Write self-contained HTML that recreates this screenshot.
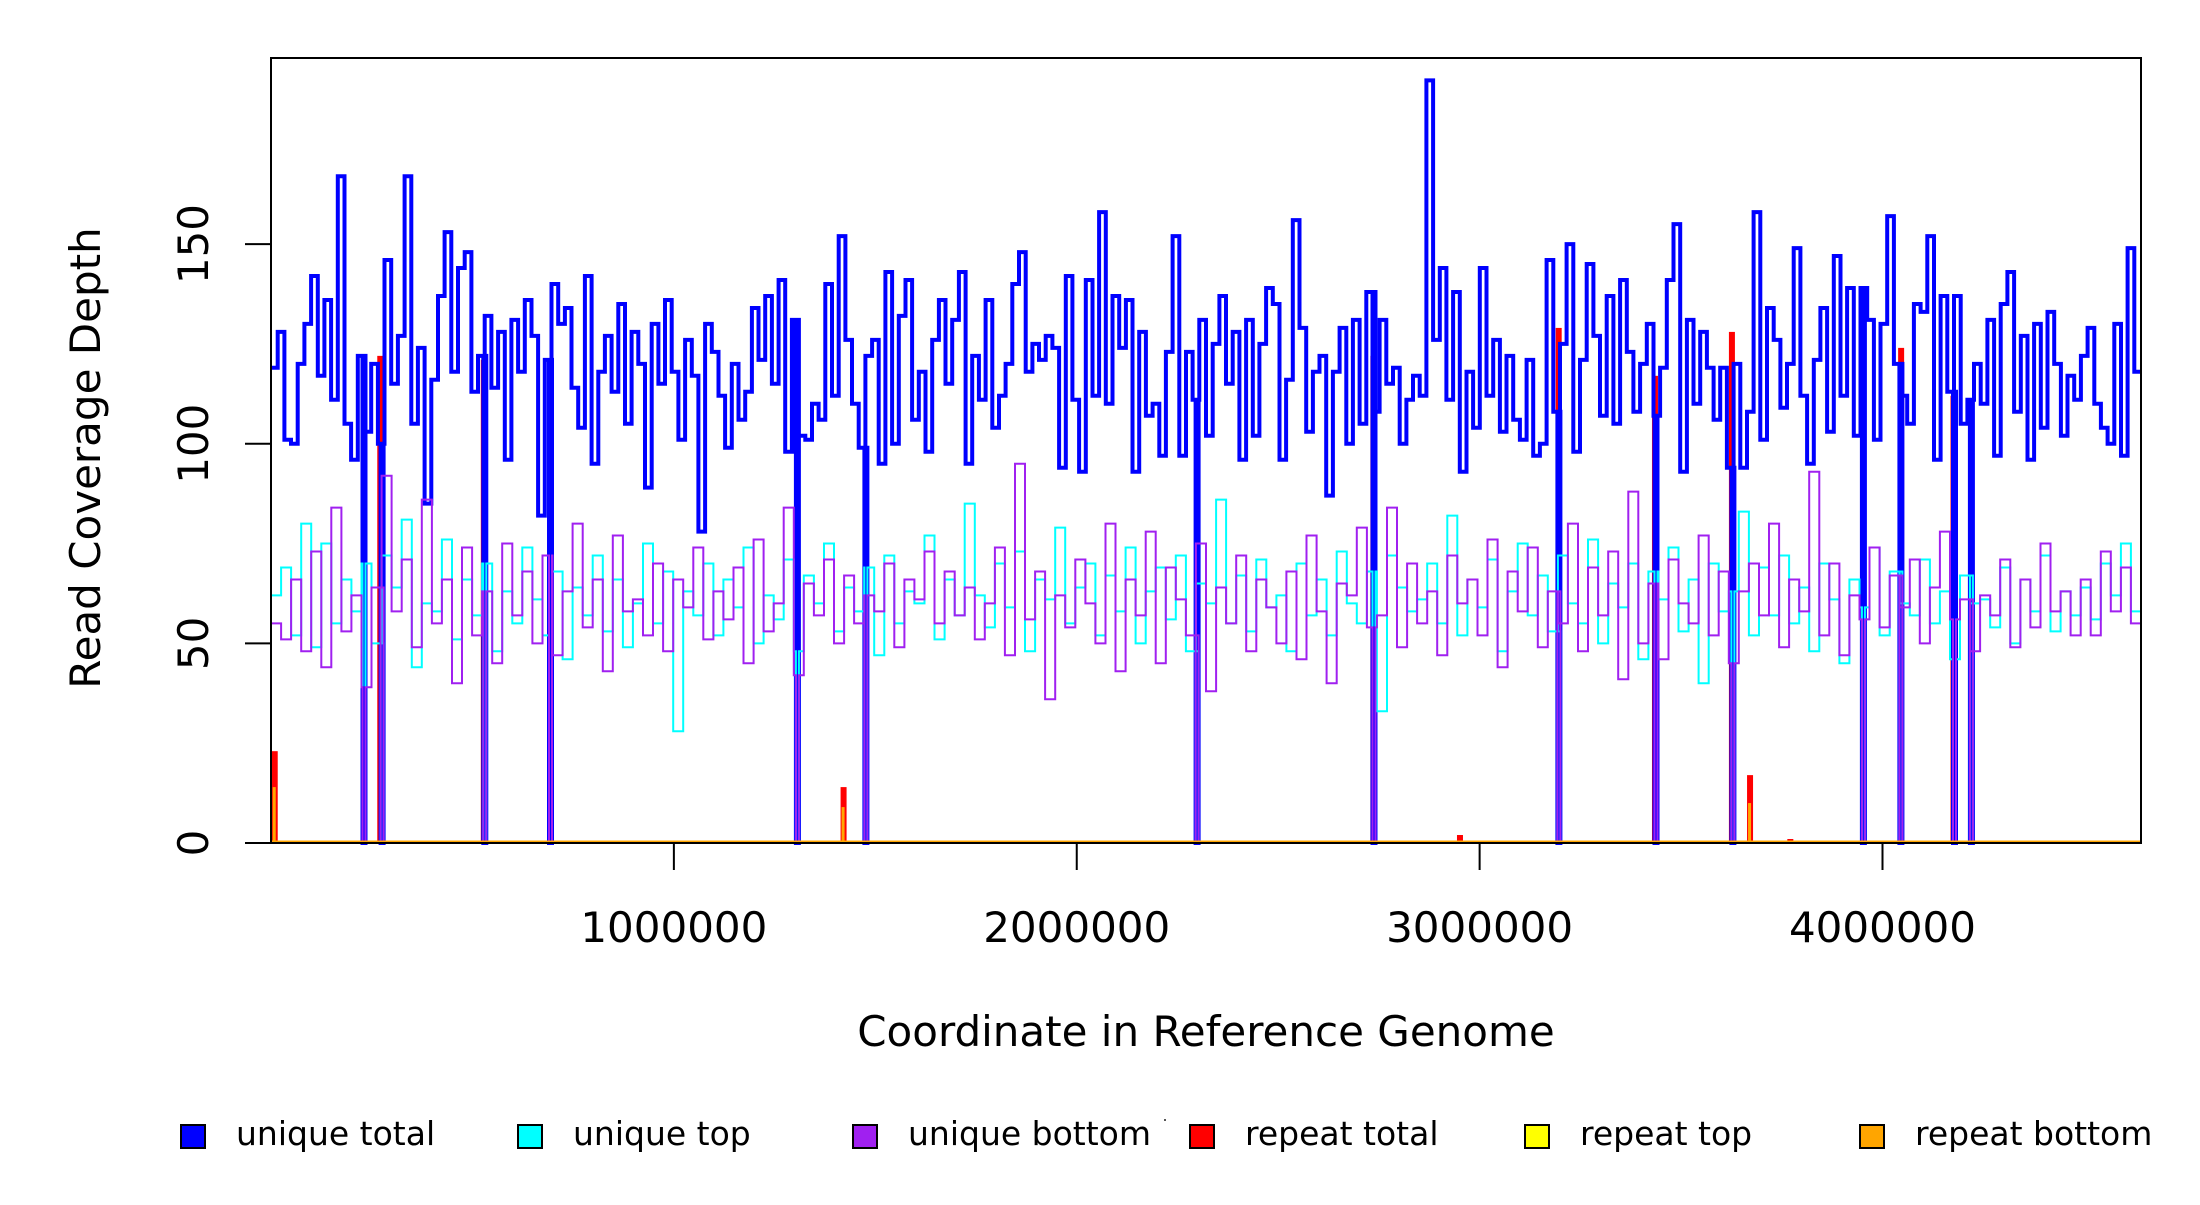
<!DOCTYPE html>
<html><head><meta charset="utf-8"><style>
html,body{margin:0;padding:0;background:#fff;}
svg text{font-family:"DejaVu Sans","Liberation Sans",sans-serif;fill:#000;}
</style></head><body>
<svg id="chart" width="2200" height="1200" viewBox="0 0 2200 1200" xmlns="http://www.w3.org/2000/svg">
<g id="plot"></g>
<rect x="271" y="58" width="1870" height="785" fill="none" stroke="#000" stroke-width="2"/>
<g id="axes"></g>
<text x="1206" y="1046" font-size="42" text-anchor="middle">Coordinate in Reference Genome</text>
<text transform="translate(100,458) rotate(-90)" font-size="42" text-anchor="middle">Read Coverage Depth</text>
<g id="legend"></g>
<rect x="1164" y="1119" width="2" height="2" fill="#555"/>
</svg>
<script>
const genomeLength = 4641652;
const uniqueTotal = [119,128,101,100,120,130,142,117,136,111,167,105,96,122,103,120,100,146,115,127,
167,105,124,85,116,137,153,118,144,148,113,122,132,114,128,96,131,118,136,127,
82,121,140,130,134,114,104,142,95,118,127,113,135,105,128,120,89,130,115,136,
118,101,126,117,78,130,123,112,99,120,106,113,134,121,137,115,141,98,131,102,
101,110,106,140,112,152,126,110,99,122,126,95,143,100,132,141,106,118,98,126,
136,115,131,143,95,122,111,136,104,112,120,140,148,118,125,121,127,124,94,142,
111,93,141,112,158,110,137,124,136,93,128,107,110,97,123,152,97,123,111,131,
102,125,137,115,128,96,131,102,125,139,135,96,116,156,129,103,118,122,87,118,
129,100,131,105,138,108,131,115,119,100,111,117,112,191,126,144,111,138,93,118,
104,144,112,126,103,122,106,101,121,97,100,146,108,125,150,98,121,145,127,107,
137,105,141,123,108,120,130,107,119,141,155,93,131,110,128,119,106,119,94,120,
94,108,158,101,134,126,109,120,149,112,95,121,134,103,147,112,139,102,139,131,
101,130,157,120,112,105,135,133,152,96,137,113,137,105,111,120,110,131,97,135,
143,108,127,96,130,104,133,120,102,117,111,122,129,110,104,100,130,97,149,118];
const uniqueTop = [62,69,52,80,49,75,55,66,58,70,50,72,64,81,44,60,58,76,51,66,57,70,48,63,55,74,61,52,68,46,64,57,72,53,66,49,60,75,55,68,28,63,57,70,52,66,59,74,50,62,56,71,48,67,60,75,53,64,58,69,47,72,55,63,60,77,51,66,57,85,62,54,70,59,73,48,66,61,79,55,64,70,52,67,58,74,50,63,69,56,72,48,65,60,86,55,67,53,71,59,62,48,70,57,66,52,73,60,55,68,33,72,64,58,61,70,55,82,52,66,59,71,48,63,75,57,67,53,72,60,55,76,50,65,59,70,46,68,61,74,53,66,40,70,58,63,83,52,69,57,72,55,64,48,70,61,45,66,59,74,52,68,60,57,71,55,63,46,67,60,61,54,69,50,66,58,72,53,63,57,64,56,70,62,75,58];
const uniqueBottom = [55,51,66,48,73,44,84,53,62,39,64,92,58,71,49,86,55,66,40,74,52,63,45,75,57,68,50,72,47,63,80,54,66,43,77,58,61,52,70,48,66,59,74,51,63,56,69,45,76,53,60,84,42,65,57,71,50,67,55,62,58,70,49,66,61,73,55,68,57,64,51,60,74,47,95,56,68,36,62,54,71,60,50,80,43,66,57,78,45,69,61,52,75,38,64,55,72,48,66,59,50,68,46,77,58,40,65,62,79,54,57,84,49,70,55,63,47,72,60,66,52,76,44,68,58,74,49,63,55,80,48,69,57,73,41,88,50,65,46,71,60,55,77,52,68,45,63,70,57,80,49,66,58,93,52,70,47,62,56,74,54,67,59,71,50,64,78,56,61,48,62,57,71,49,66,54,75,58,63,52,66,52,73,58,69,55];
const dipPositions = [227000,272000,527000,690000,1303000,1473000,2295000,2734000,3193000,3434000,3625000,3949000,4042000,4175000,4217000];
const repeatPositions = [8000,270000,527000,1420000,2735000,2950000,3195000,3434000,3625000,3670000,3770000,4045000,4175000];
const repeatTotal = [23,122,121,14,122,2,129,117,128,17,1,124,112];
const repeatBottomPositions = [8000,1420000,3670000];
const repeatBottom = [14,9,10];
const yTicks = [0,50,100,150];
const xTicks = [1000000,2000000,3000000,4000000];
const xTickLabels = ["1000000","2000000","3000000","4000000"];
const legendLabels = ["unique total","unique top","unique bottom","repeat total","repeat top","repeat bottom"];
const legendColors = ["#0000ff","#00ffff","#a020f0","#ff0000","#ffff00","#ffa500"];

const NS="http://www.w3.org/2000/svg";
const X0=271,X1=2141,Y0=843,YT=58,YMAX=196.6;
const xs=v=>X0+(v/genomeLength)*(X1-X0);
const ys=v=>Y0-(v/YMAX)*(Y0-YT);
const plot=document.getElementById('plot');
function mk(tag,attrs,parent){const e=document.createElementNS(NS,tag);for(const k in attrs)e.setAttribute(k,attrs[k]);parent.appendChild(e);return e;}

function stepPath(vals){
  const binSize=genomeLength/vals.length;
  let d='';
  for(let i=0;i<vals.length;i++){
    const a=i*binSize,b=(i+1)*binSize;
    const y=ys(vals[i]);
    d+=(i===0?'M':'L')+xs(a).toFixed(1)+','+y.toFixed(1);
    const dips=dipPositions.filter(p=>p>=a&&p<b).sort((m,n)=>m-n);
    for(const p of dips){
      const px=xs(p);
      d+='L'+px.toFixed(1)+','+y.toFixed(1)+'L'+px.toFixed(1)+','+Y0+'L'+(px+3).toFixed(1)+','+Y0+'L'+(px+3).toFixed(1)+','+y.toFixed(1);
    }
    d+='L'+xs(b).toFixed(1)+','+y.toFixed(1);
  }
  return d;
}
repeatPositions.forEach((p,i)=>{
  const r=mk('rect',{x:xs(p)-2.5,y:ys(repeatTotal[i]),width:6,height:Y0-ys(repeatTotal[i]),fill:'#ff0000'},plot);
  
  
});
const t=mk('path',{d:stepPath(uniqueTotal),fill:'none',stroke:'#0000ff','stroke-width':4},plot);


const tp=mk('path',{d:stepPath(uniqueTop),fill:'none',stroke:'#00ffff','stroke-width':2},plot);


const bt=mk('path',{d:stepPath(uniqueBottom),fill:'none',stroke:'#a020f0','stroke-width':2},plot);


repeatBottomPositions.forEach((p,i)=>{
  const r=mk('rect',{x:xs(p)-1.5,y:ys(repeatBottom[i]),width:3,height:Y0-ys(repeatBottom[i]),fill:'#ffa500'},plot);
  
  
});
const base=mk('line',{x1:X0,x2:X1,y1:Y0-1,y2:Y0-1,stroke:'#ffa500','stroke-width':3},plot);



const axes=document.getElementById('axes');
yTicks.forEach(v=>{
  const l=mk('line',{x1:X0-26,x2:X0,y1:ys(v),y2:ys(v),stroke:'#000','stroke-width':2},axes);
  
  
  const tx=mk('text',{transform:`translate(208,${ys(v)}) rotate(-90)`,'font-size':42,'text-anchor':'middle'},axes);
  tx.textContent=String(v);
  
  
});
xTicks.forEach((v,i)=>{
  const l=mk('line',{x1:xs(v),x2:xs(v),y1:Y0,y2:Y0+27,stroke:'#000','stroke-width':2},axes);
  
  
  const tx=mk('text',{x:xs(v),y:942,'font-size':42,'text-anchor':'middle'},axes);
  tx.textContent=xTickLabels[i];
  
  
});

const leg=document.getElementById('legend');
const legX=[181,518,853,1190,1525,1860];
legendLabels.forEach((lab,i)=>{
  const g=mk('g',{},leg);
  
  
  mk('rect',{x:legX[i],y:1125,width:24,height:23,fill:legendColors[i],stroke:'#000','stroke-width':2},g);
  const tx=mk('text',{x:legX[i]+55,y:1145,'font-size':33},g);
  tx.textContent=lab;
});
</script>
</body></html>
